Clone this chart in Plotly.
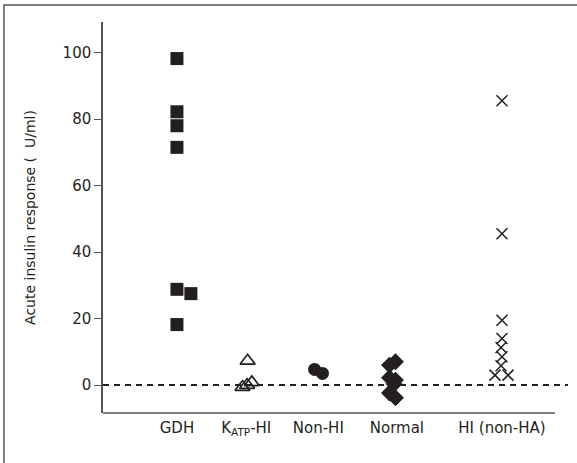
import plotly.graph_objects as go

# Data
categories = ["GDH", "K<sub>ATP</sub>-HI", "Non-HI", "Normal", "HI (non-HA)"]
cat_pos = [15.9, 30.8, 46.3, 63.2, 85.8]  # horizontal category centres (axis units)

gdh_vals = [98.2, 82.2, 78.0, 71.5, 28.8, 27.5, 18.2]
gdh_jit = [0, 0, 0, 0, 0, 3.0, 0]

katp_vals = [7.3, 0.8, 0.0, -0.6]
katp_jit = [0.3, 1.2, 0.2, -0.8]

nonhi_vals = [4.7, 3.5]
nonhi_jit = [-0.8, 0.9]

normal_vals = [6.0, 7.0, 2.2, 1.5, 0.3, -2.4, -3.8]
normal_jit = [-1.6, -0.3, -1.6, -0.3, -0.6, -1.6, -0.3]

hi_vals = [85.5, 45.5, 19.5, 14.0, 11.3, 8.5, 5.8, 3.0, 3.0]
hi_jit = [0, 0, 0, 0, -0.2, 0, -0.2, -1.5, 1.3]

y_ticks = [0, 20, 40, 60, 80, 100]

ink = "#231f20"

fig = go.Figure()

def add(vals, jit, pos, symbol, size, lw=0):
    xs = [pos + j for j in jit]
    marker = dict(symbol=symbol, size=size, color=ink,
                  line=dict(color=ink, width=lw))
    fig.add_trace(go.Scatter(x=xs, y=vals, mode="markers", marker=marker,
                             showlegend=False, hoverinfo="y"))

add(gdh_vals, gdh_jit, cat_pos[0], "square", 13)
add(katp_vals, katp_jit, cat_pos[1], "triangle-up-open", 13, lw=1.7)
add(nonhi_vals, nonhi_jit, cat_pos[2], "circle", 13)
add(normal_vals, normal_jit, cat_pos[3], "diamond", 13)
add(hi_vals, hi_jit, cat_pos[4], "x-thin-open", 11, lw=1.5)

fig.update_layout(
    width=577, height=463,
    margin=dict(l=103, r=9, t=22, b=50),
    paper_bgcolor="white", plot_bgcolor="white",
    font=dict(family="DejaVu Sans, sans-serif", color=ink, size=15),
    xaxis=dict(range=[0, 100], tickvals=cat_pos, ticktext=categories,
               showgrid=False, zeroline=False, showline=False,
               ticks="outside", ticklen=1, tickcolor="rgba(0,0,0,0)",
               tickfont=dict(size=15, color=ink)),
    yaxis=dict(range=[-8.4, 109.2], tickvals=y_ticks, showgrid=False, zeroline=False,
               showline=True, linecolor="#555555", linewidth=1.5,
               ticks="outside", ticklen=7, tickwidth=1.2, tickcolor="#555555",
               tickfont=dict(size=15, color=ink),
               title=dict(text="Acute insulin response (  U/ml)", font=dict(size=14, color=ink),
                          standoff=24)),
    shapes=[
        # x axis line
        dict(type="line", xref="paper", yref="paper", x0=0, x1=0.972, y0=0, y1=0,
             line=dict(color="#555555", width=1.5)),
        # dashed zero line
        dict(type="line", xref="paper", yref="y", x0=0, x1=1, y0=0, y1=0,
             line=dict(color=ink, width=2, dash="6px,5px")),
        # outer frame
        dict(type="rect", xref="paper", yref="paper", x0=-0.213, x1=1.03, y0=-0.14, y1=1.0435,
             line=dict(color="#555555", width=1.5), layer="below"),
    ],
)

fig.write_html("out.html")
